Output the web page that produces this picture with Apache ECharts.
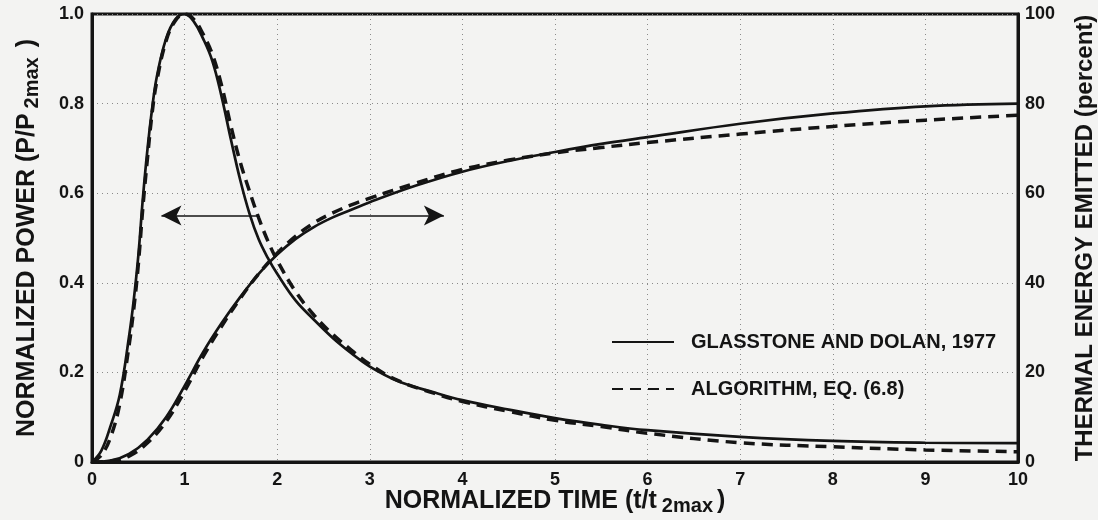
<!DOCTYPE html>
<html>
<head>
<meta charset="utf-8">
<script src="https://cdn.jsdelivr.net/npm/echarts@6/dist/echarts.min.js"></script>
<style>
html,body{margin:0;padding:0;background:#f3f3f2;}
#chart{width:1098px;height:520px;}
</style>
</head>
<body>
<div id="chart"></div>
<script>
// Normalized time grid for power curves (t / t2max)
const tPower = [0,0.1,0.2,0.3,0.4,0.45,0.5,0.55,0.6,0.65,0.7,0.8,0.9,1.0,1.1,1.2,1.3,1.4,1.5,1.6,1.7,1.8,1.9,2.0,2.2,2.4,2.6,2.8,3.0,3.3,3.7,4.0,4.5,5.0,5.5,6,7,8,9,10];
// Normalized power P/P2max
const powerGD  = [0,0.025,0.08,0.15,0.28,0.36,0.46,0.59,0.70,0.79,0.86,0.945,0.988,1.0,0.983,0.945,0.895,0.815,0.72,0.63,0.555,0.497,0.455,0.42,0.36,0.317,0.277,0.243,0.213,0.181,0.155,0.138,0.117,0.098,0.083,0.071,0.056,0.047,0.043,0.042];
const powerAlg = [0,0.015,0.055,0.13,0.26,0.34,0.44,0.57,0.68,0.78,0.85,0.94,0.985,1.0,0.988,0.955,0.91,0.84,0.75,0.67,0.605,0.545,0.493,0.45,0.38,0.327,0.285,0.25,0.218,0.182,0.153,0.135,0.113,0.093,0.079,0.064,0.043,0.034,0.027,0.023];
// Normalized time grid for thermal energy curves
const tEnergy = [0,0.2,0.4,0.6,0.8,1.0,1.2,1.4,1.6,1.8,2.0,2.2,2.4,2.6,2.8,3.0,3.5,4,4.5,5,5.5,6,7,8,9,10];
// Thermal energy emitted (percent)
const energyGD  = [0,0.3,1.8,5,10,17,24.5,31,36.8,42,46.3,49.8,52.5,54.6,56.3,58,61.7,64.8,67.2,69.2,71,72.5,75.5,77.8,79.4,80];
const energyAlg = [0,0.2,1.3,4.3,9,15.8,23.5,30.3,36.5,42,46.6,50.4,53.4,55.6,57.4,58.9,62.3,65.3,67.4,69,70.2,71.3,73.2,74.9,76.3,77.4];

const seriesNames = ['GLASSTONE AND DOLAN, 1977', 'ALGORITHM, EQ. (6.8)'];
// Arrow endpoints (time, power-axis level)
const arrowLeft  = [[1.8, 0.55], [0.75, 0.55]];
const arrowRight = [[2.78, 0.55], [3.8, 0.55]];

const ink = '#141414';
const font = 'Liberation Sans, Arial, Helvetica, sans-serif';
const pairs = (xs, ys) => xs.map((x, i) => [x, ys[i]]);

const chart = echarts.init(document.getElementById('chart'));
const gridStyle = {color: '#8a8a8a', width: 1, type: [1, 4]};
const solidLine = {color: ink, width: 2.7, type: 'solid'};
const dashLine = {color: ink, width: 3.5, type: [11, 7]};
const nameRich = (padRight) => ({
  n: {fontSize: 25, fontWeight: 'bold', color: ink, fontFamily: font, lineHeight: 27, verticalAlign: 'top'},
  s: {fontSize: 20, fontWeight: 'bold', color: ink, fontFamily: font, lineHeight: 22, verticalAlign: 'bottom', padding: [15, padRight, 0, 5]}
});
chart.setOption({
  animation: false,
  backgroundColor: '#f3f3f2',
  textStyle: {fontFamily: font, color: ink},
  grid: {left: 92, right: 80, top: 14, bottom: 58, outerBoundsMode: 'none', containLabel: false,
    show: true, borderColor: ink, borderWidth: 3, backgroundColor: 'transparent'},
  legend: {
    orient: 'vertical', left: 606, top: 327, itemWidth: 62, itemHeight: 14, itemGap: 27,
    data: seriesNames,
    itemStyle: {color: 'rgba(0,0,0,0)', borderWidth: 0, opacity: 0},
    textStyle: {fontSize: 20, fontWeight: 'bold', color: ink, fontFamily: font, padding: [0, 0, 0, 12]},
    selectedMode: false
  },
  xAxis: {
    type: 'value', min: 0, max: 10, interval: 1,
    axisLine: {lineStyle: {color: ink, width: 3}},
    axisTick: {show: false},
    axisLabel: {fontSize: 18, fontWeight: 'bold', color: ink, margin: 9, fontFamily: font},
    splitLine: {show: true, lineStyle: gridStyle},
    name: '{n|NORMALIZED TIME (t/t}{s|2max}{n|)}',
    nameLocation: 'middle', nameGap: 27, nameMoveOverlap: false,
    nameTextStyle: {rich: nameRich(4)}
  },
  yAxis: [{
    type: 'value', min: 0, max: 1, interval: 0.2, position: 'left',
    axisLine: {show: true, lineStyle: {color: ink, width: 3}},
    axisTick: {show: false},
    axisLabel: {fontSize: 18, fontWeight: 'bold', color: ink, margin: 8, fontFamily: font,
      formatter: v => v === 0 ? '0' : v.toFixed(1)},
    splitLine: {show: true, lineStyle: gridStyle},
    name: '{n|NORMALIZED POWER (P/P}{s|2max}{n|)}',
    nameLocation: 'middle', nameRotate: 90, nameGap: 50,
    nameTextStyle: {rich: nameRich(10)}
  }, {
    type: 'value', min: 0, max: 100, interval: 20, position: 'right',
    axisLine: {show: true, lineStyle: {color: ink, width: 3}},
    axisTick: {show: false},
    axisLabel: {fontSize: 18, fontWeight: 'bold', color: ink, margin: 7, fontFamily: font},
    splitLine: {show: false},
    name: 'THERMAL ENERGY EMITTED (percent)',
    nameLocation: 'middle', nameRotate: 90, nameGap: 55,
    nameTextStyle: {fontSize: 24, fontWeight: 'bold', color: ink, fontFamily: font}
  }],
  series: [{
    name: seriesNames[0], type: 'line', yAxisIndex: 0, data: pairs(tPower, powerGD),
    symbol: 'none', smooth: 0.4,
    lineStyle: solidLine, itemStyle: {color: ink},
    markLine: {
      silent: true, symbol: ['none', 'arrow'], symbolSize: [15, 20],
      label: {show: false},
      lineStyle: {color: ink, width: 1.6, type: 'solid'},
      data: [
        [{coord: arrowLeft[0]}, {coord: arrowLeft[1]}],
        [{coord: arrowRight[0]}, {coord: arrowRight[1]}]
      ]
    }
  }, {
    name: seriesNames[1], type: 'line', yAxisIndex: 0, data: pairs(tPower, powerAlg),
    symbol: 'none', smooth: 0.4,
    lineStyle: dashLine, itemStyle: {color: ink}
  }, {
    name: seriesNames[0], type: 'line', yAxisIndex: 1, data: pairs(tEnergy, energyGD),
    symbol: 'none', smooth: 0.4,
    lineStyle: solidLine, itemStyle: {color: ink}
  }, {
    name: seriesNames[1], type: 'line', yAxisIndex: 1, data: pairs(tEnergy, energyAlg),
    symbol: 'none', smooth: 0.4,
    lineStyle: dashLine, itemStyle: {color: ink}
  }]
});
</script>
</body>
</html>
